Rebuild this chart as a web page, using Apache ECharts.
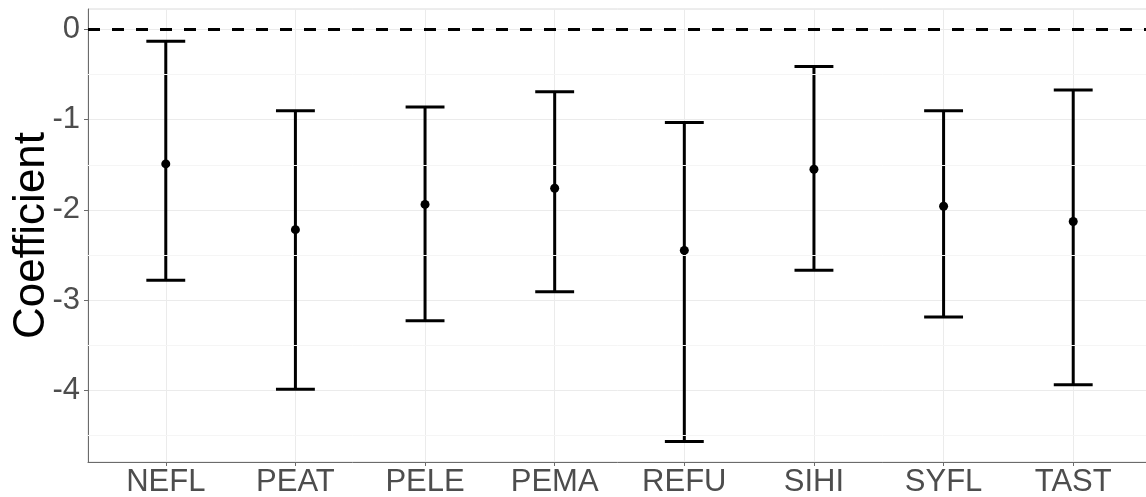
<!DOCTYPE html>
<html>
<head>
<meta charset="utf-8">
<script src="https://cdn.jsdelivr.net/npm/echarts@6/dist/echarts.min.js"></script>
<style>
  html, body { margin: 0; padding: 0; background: #ffffff; }
  #chart { width: 1146px; height: 497px; }
</style>
</head>
<body>
<div id="chart"></div>
<script>
const categories = ['NEFL', 'PEAT', 'PELE', 'PEMA', 'REFU', 'SIHI', 'SYFL', 'TAST'];
const estimate = [-1.49, -2.22, -1.94, -1.76, -2.45, -1.55, -1.96, -2.13];
const lower = [-2.78, -3.99, -3.23, -2.91, -4.57, -2.67, -3.19, -3.94];
const upper = [-0.13, -0.90, -0.86, -0.69, -1.03, -0.41, -0.90, -0.67];
const yTicks = [0, -1, -2, -3, -4];
const yMinor = [-0.5, -1.5, -2.5, -3.5, -4.5];
const refLine = 0;

const xIdx = categories.map((c, i) => i);
const axisGray = '#6b6b6b';
const labelGray = '#4d4d4d';
const font = 'Liberation Sans, Arial, sans-serif';

const chart = echarts.init(document.getElementById('chart'), null, { renderer: 'canvas' });

const option = {
  backgroundColor: '#ffffff',
  animation: false,
  grid: {
    left: 88, top: 9, width: 1063, height: 453,
    containLabel: false, outerBoundsMode: 'none',
    show: true, borderColor: '#dadada', borderWidth: 1, backgroundColor: '#ffffff'
  },
  xAxis: {
    type: 'value',
    min: -0.6, max: 7.6,
    axisLine: { show: true, onZero: false, lineStyle: { color: axisGray, width: 1 } },
    axisTick: { show: true, customValues: xIdx, length: 4, lineStyle: { color: axisGray } },
    axisLabel: {
      customValues: xIdx, margin: 5,
      formatter: v => categories[Math.round(v)] || '',
      color: labelGray, fontSize: 31, fontFamily: font
    },
    splitLine: { show: true, lineStyle: { color: '#ebebeb', width: 1 } }
  },
  yAxis: {
    type: 'value',
    min: -4.798, max: 0.2285,
    name: 'Coefficient', nameLocation: 'middle', nameGap: 34, nameMoveOverlap: false,
    nameTextStyle: { color: '#000000', fontSize: 44, fontFamily: font },
    axisLine: { show: true, onZero: false, lineStyle: { color: axisGray, width: 1 } },
    axisTick: { show: true, customValues: yTicks, length: 4, lineStyle: { color: axisGray } },
    axisLabel: {
      customValues: yTicks, margin: 8,
      color: labelGray, fontSize: 31, fontFamily: font
    },
    splitLine: { show: true, lineStyle: { color: '#ebebeb', width: 1 } }
  },
  series: [
    {
      type: 'line', data: [], silent: true, z: 1,
      markLine: {
        silent: true, symbol: 'none', animation: false,
        label: { show: false },
        lineStyle: { color: '#f5f5f5', width: 1, type: 'solid' },
        data: yMinor.map(v => ({ yAxis: v }))
      }
    },
    {
      type: 'line', data: [], silent: true, z: 3,
      markLine: {
        silent: true, symbol: 'none', animation: false,
        label: { show: false },
        lineStyle: { color: '#000000', width: 3, type: [12, 12] },
        data: [{ yAxis: refLine }]
      }
    },
    {
      type: 'custom', z: 4,
      data: xIdx.map(i => [i, lower[i], upper[i]]),
      renderItem: function (params, api) {
        const x = api.value(0);
        const pLo = api.coord([x, api.value(1)]);
        const pHi = api.coord([x, api.value(2)]);
        const half = api.size([0.15, 0])[0];
        const style = { stroke: '#000000', lineWidth: 3, fill: null };
        return {
          type: 'group',
          children: [
            { type: 'line', shape: { x1: pLo[0], y1: pLo[1], x2: pHi[0], y2: pHi[1] }, style: style },
            { type: 'line', shape: { x1: pLo[0] - half, y1: pLo[1], x2: pLo[0] + half, y2: pLo[1] }, style: style },
            { type: 'line', shape: { x1: pHi[0] - half, y1: pHi[1], x2: pHi[0] + half, y2: pHi[1] }, style: style }
          ]
        };
      }
    },
    {
      type: 'scatter', z: 5,
      symbol: 'circle', symbolSize: 9,
      itemStyle: { color: '#000000', opacity: 1 },
      data: xIdx.map(i => [i, estimate[i]])
    }
  ]
};
chart.setOption(option);
</script>
</body>
</html>
